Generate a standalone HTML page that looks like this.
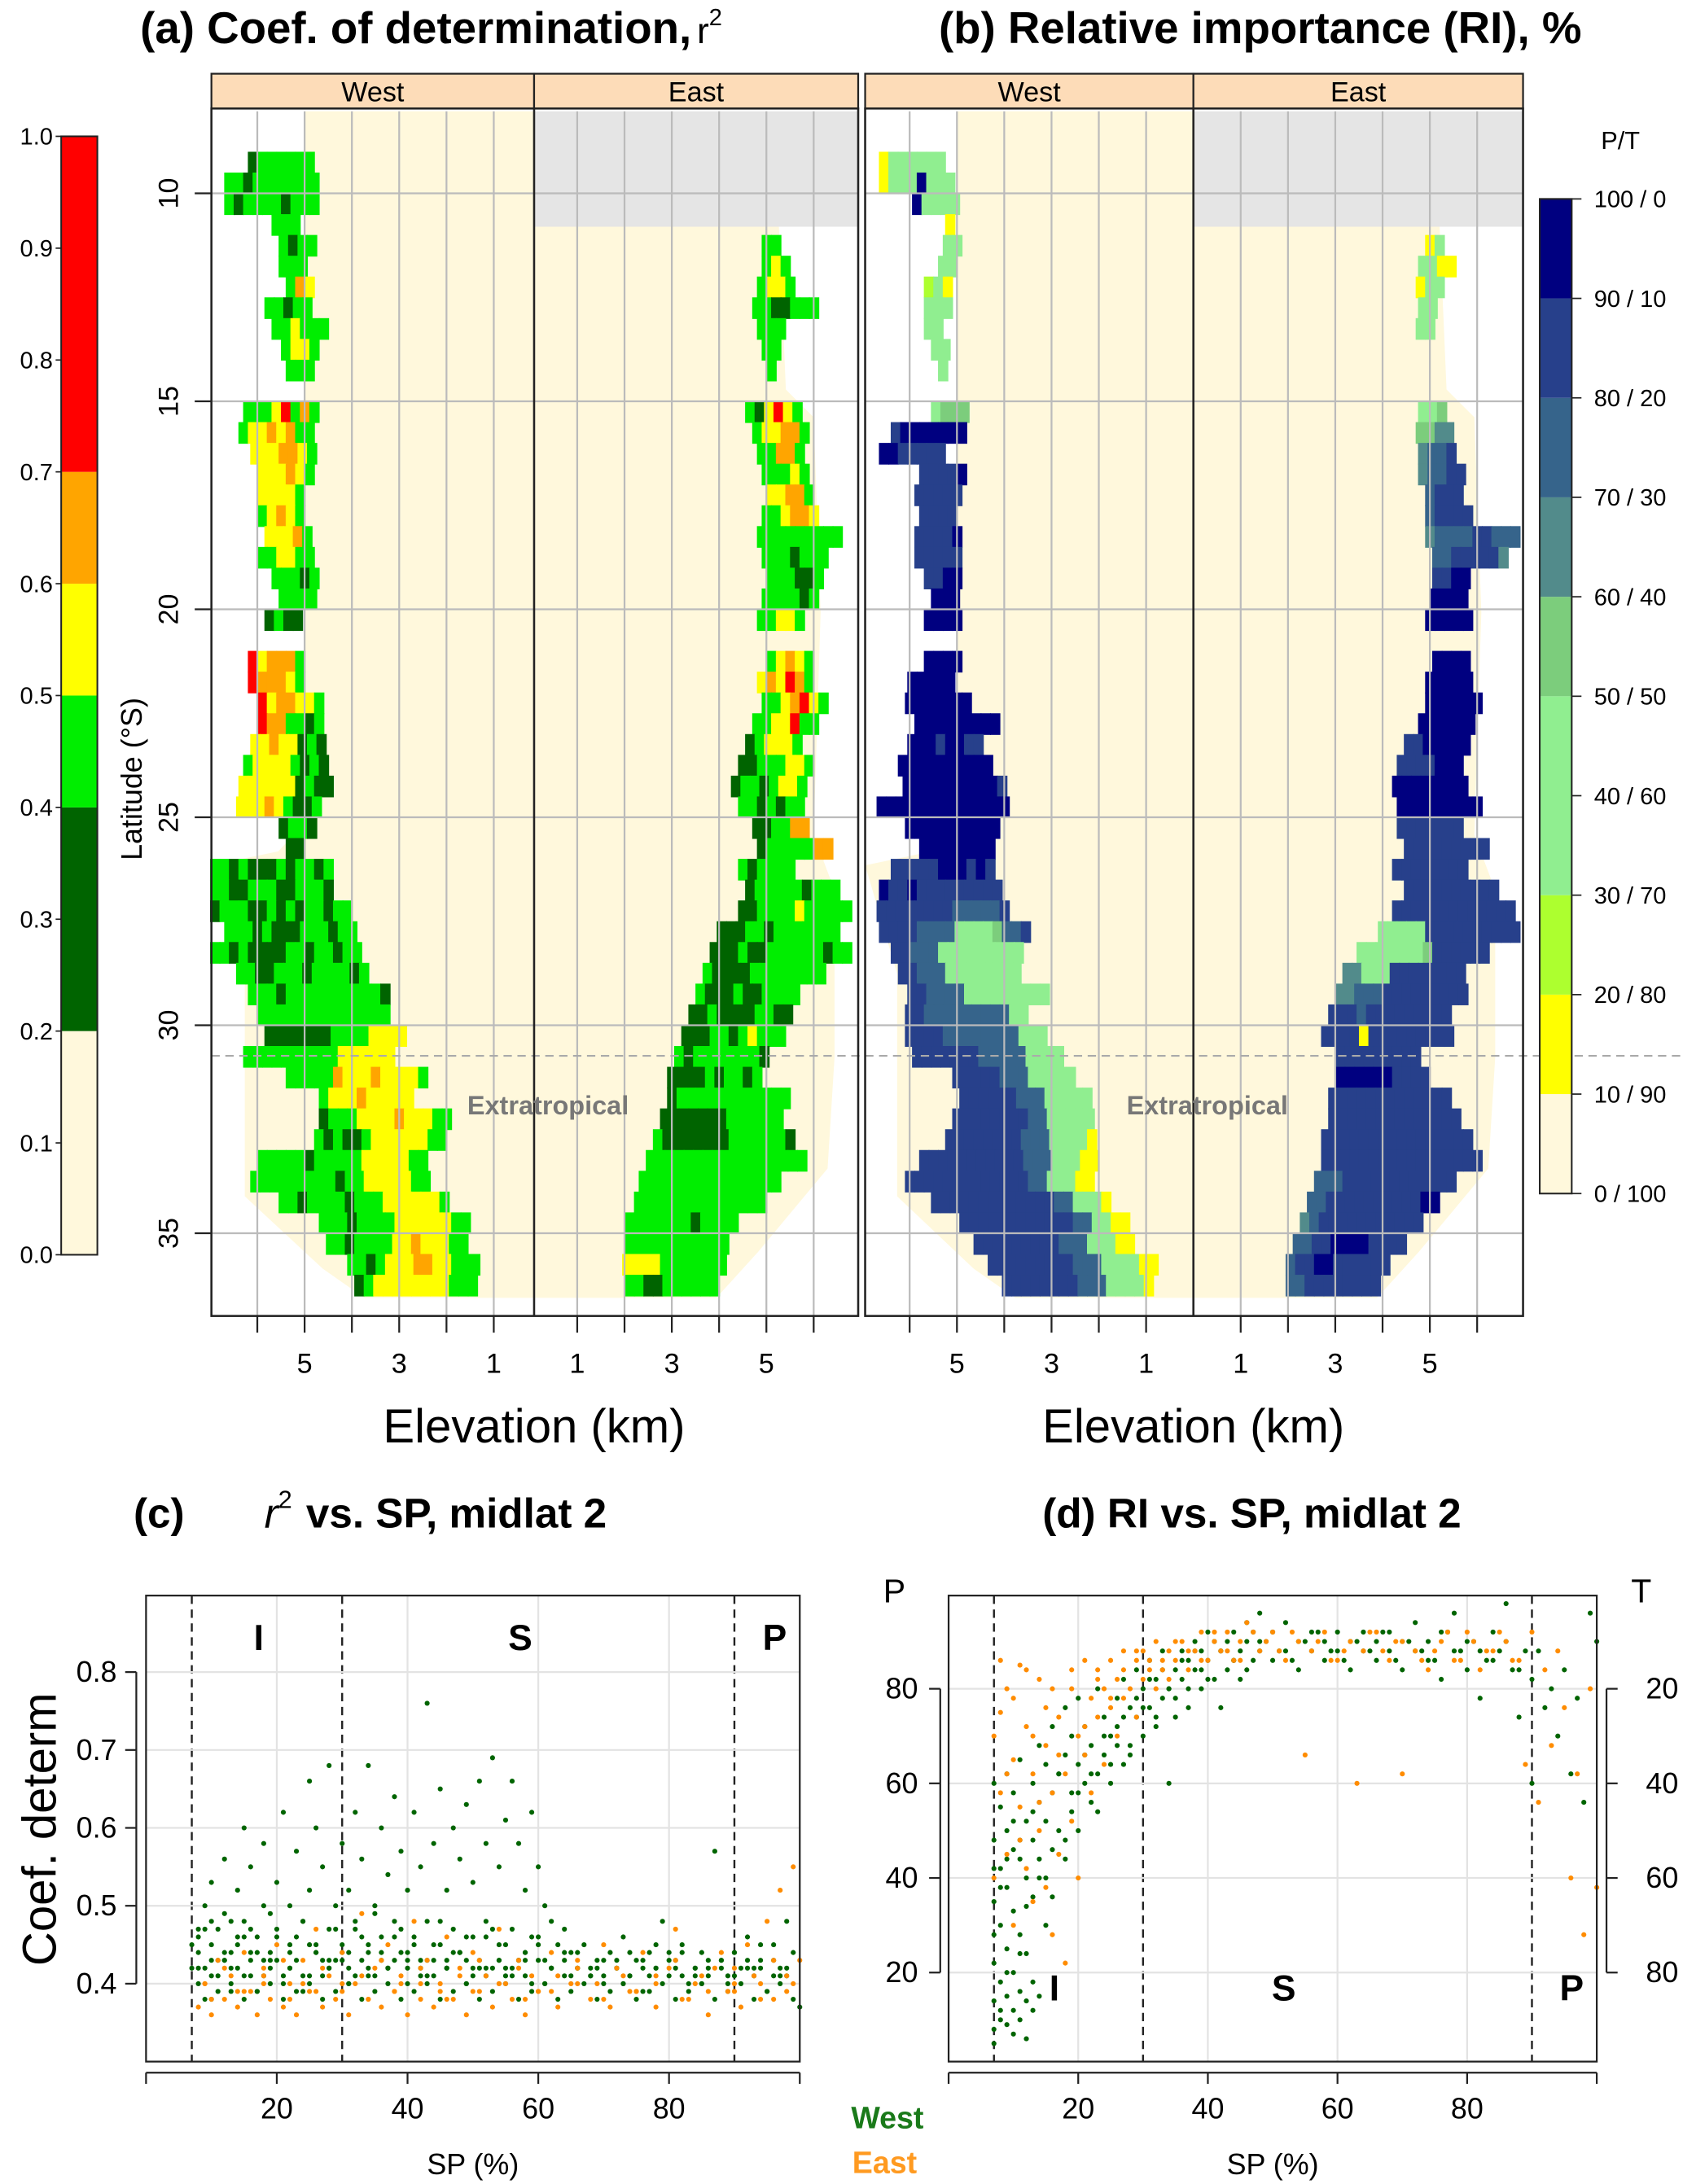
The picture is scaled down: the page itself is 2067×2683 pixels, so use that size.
<!DOCTYPE html>
<html><head><meta charset="utf-8"><style>
html,body{margin:0;padding:0;background:#fff}
svg{display:block;font-family:"Liberation Sans",Arial,sans-serif}
</style></head><body>
<svg id="fig" xmlns="http://www.w3.org/2000/svg" width="2067" height="2683" viewBox="0 0 1210 1570" preserveAspectRatio="none">
<rect x="0" y="0" width="1210" height="1570" fill="#fff"/>
<text x="310" y="31" font-size="32" font-weight="bold" text-anchor="middle">(a) Coef. of determination,<tspan font-weight="normal" font-size="26" dx="4">r</tspan><tspan font-weight="normal" font-size="17" dy="-13">2</tspan></text>
<text x="906" y="31" font-size="32" font-weight="bold" text-anchor="middle">(b) Relative importance (RI), %</text>
<text x="96" y="1098" font-size="30" font-weight="bold">(c)</text>
<text x="190" y="1098" font-size="30" font-weight="bold"><tspan font-style="italic" font-weight="normal">r</tspan><tspan font-size="18" font-weight="normal" dy="-14">2</tspan><tspan dy="14" dx="10">vs. SP, midlat 2</tspan></text>
<text x="900" y="1098" font-size="30" font-weight="bold" text-anchor="middle">(d) RI vs. SP, midlat 2</text>
<polygon fill="#fff8dc" points="219,80 384,80 384,933 262,933 232,912 176,860 176,700 152,622 200,612 219,592"/>
<polygon fill="#fff8dc" points="384,163 560,163 565,280 585,300 590,440 585,600 600,640 600,760 595,840 545,900 515,933 384,933"/>
<rect x="384" y="80" width="233" height="83" fill="#e5e5e5"/>
<polygon fill="#fff8dc" points="688,80 858,80 858,933 730,933 700,912 645,860 645,700 622,622 670,612 688,592"/>
<polygon fill="#fff8dc" points="858,163 1035,163 1040,280 1060,300 1065,440 1060,600 1075,640 1075,760 1070,840 1020,900 990,933 858,933"/>
<rect x="858" y="80" width="237" height="83" fill="#e5e5e5"/>
<g id="cells"></g>
<g id="grid"></g>
<g id="frames"></g>
<g id="scatter"></g>
</svg>
<script>
const NS='http://www.w3.org/2000/svg';
const svg=document.getElementById('fig');
function mk(tag,attrs,parent){const e=document.createElementNS(NS,tag);for(const k in attrs)e.setAttribute(k,attrs[k]);(parent||svg).appendChild(e);return e;}

const r2Codes=['c','d','g','y','o','r'];
const r2Colors=['#fff8dc','#006400','#00ee00','#ffff00','#ffa500','#ff0000'];
const riColors=['#fff8dc','#ffff00','#adff2f','#90ee90','#90ee90','#7ccd7c','#528b8b','#36648b','#27408b','#000080'];
const r2Ticks=['0.0','0.1','0.2','0.3','0.4','0.5','0.6','0.7','0.8','0.9','1.0'];
const riTicks=['0 / 100','10 / 90','20 / 80','30 / 70','40 / 60','50 / 50','60 / 40','70 / 30','80 / 20','90 / 10','100 / 0'];
const latTicks=[10,15,20,25,30,35];
const kmTicks=[1,2,3,4,5,6];
const kmLabels=[1,3,5];

const aWest=[[9,6.2,'dgggggg'],[9.5,6.7,'ggdggggggg'],[10,6.7,'gdggggdggg'],[10.5,5.7,'ggg'],[11,5.55,'gdgg'],[11.5,5.55,'ggg'],[12,5.4,'goy'],[12.5,5.85,'ggdgg'],[13,5.7,'ggyggg'],[13.5,5.5,'gyyg'],[14,5.4,'ggg'],
[15,6.3,'gggyrgog'],[15.5,6.4,'gyyoyogg'],[16,6.15,'yyyooyg'],[16.5,6,'yyyoyg'],[17,6,'yyyyg'],[17.5,6,'gyoyg'],[18,5.85,'yyyog'],[18.5,6,'ggyygg'],[19,5.7,'gggdg'],[19.5,5.55,'gggg'],[20,5.85,'dgdd'],
[21,6.2,'ryooog'],[21.5,6.2,'roooyg'],[22,6,'ryooyyg'],[22.5,6,'rooggdg'],[23,6.15,'yyoyydgd'],[23.5,6.3,'gyyyygdgd'],[24,6.4,'yyyyyydgdd'],[24.5,6.45,'yyyoygddg'],[25,5.55,'dggd'],[25.5,5.4,'dd'],
[26,7,'ggdgdddgdggdg'],[26.5,7,'ggddgggddgggd'],[27,7,'dgggddgdgdggdgg'],[27.5,6.7,'gggdgdddgggdgg'],[28,7,'ggdgddddggdggdgg'],[28.5,6.45,'ggddgggdggggdg'],[29,6.2,'gggdggggggggggd'],[29.5,6,'gggggggggggggg'],
[30,5.85,'dddddddggggyyyy'],[30.5,6.3,'ggggggggggyyyyyy'],[31,5.4,'gggggoyyyoyyyyg'],[31.5,4.7,'gyyyoyyyyy'],[32,4.7,'dgggyyyyoyyygg'],[32.5,4.8,'gdgddgyyyyyygg'],[33,6,'gggggdgggggyyyyygg'],[33.5,6.15,'gggggggggdggyyyyygg'],
[34,5.55,'ggdggggdgggyyyyyyg'],[34.5,4.7,'gggdggggyyyyyygg'],[35,4.55,'ggdggggyyoyyygg'],[35.5,4.1,'ggdgyyyooyyggg'],[36,3.95,'dgyyyyyyyyggg']];
const aEast=[[11,4.9,'gg'],[11.5,4.9,'gyg'],[12,4.8,'gyyg'],[12.5,4.7,'ggddggg'],[13,4.8,'ggg'],[13.5,4.9,'gg'],[14,5,'g'],
[15,4.55,'gdyryg'],[15.5,4.7,'gyyoog'],[16,4.8,'ggoog'],[16.5,4.9,'gggyg'],[17,5,'yyoog'],[17.5,4.9,'ggyooy'],[18,4.8,'ggggggggg'],[18.5,4.9,'gggdggg'],[19,5,'gggddg'],[19.5,4.9,'ggggdg'],[20,4.8,'ggyyg'],
[21,5,'gyoyg'],[21.5,4.8,'yoyrog'],[22,4.9,'ggyoryg'],[22.5,4.7,'ggyyrgg'],[23,4.55,'dgyyyg'],[23.5,4.4,'ddgggyyg'],[24,4.25,'dggdgyyg'],[24.5,4.4,'ggdgdgg'],[25,4.7,'ddggoo'],[25.5,4.8,'dgggggoo'],
[26,4.4,'gdgggg'],[26.5,4.55,'dgggggdggg'],[27,4.4,'ddggggyggggg'],[27.5,3.95,'dddggdggggggg'],[28,3.8,'dddgddggggggdgg'],[28.5,3.65,'gddddgggggggg'],[29,3.5,'gdddgddgggg'],[29.5,3.35,'ddgddddggdd'],
[30,3.2,'dddggdgyggg'],[30.5,3.05,'gdgggggggd'],[31,2.9,'ddddgdggdg'],[31.5,2.9,'dgggggggggggg'],[32,2.75,'dddddddgggggg'],[32.5,2.6,'gdddddddggggggd'],[33,2.45,'ggggggggggggggggg'],[33.5,2.3,'ggggggggggggggg'],
[34,2.2,'gggggggggggggg'],[34.5,2,'gggggggdgggg'],[35,2,'ggggggggggg'],[35.5,1.95,'yyyyggggggg'],[36,2,'ggddgggggg']];
const bWest=[[9,6.65,'1333333'],[9.5,6.65,'13339333'],[10,5.95,'93333'],[10.5,5.25,'1'],[11,5.3,'33'],[11.5,5.4,'33'],[12,5.7,'231'],[12.5,5.7,'333'],[13,5.7,'33'],[13.5,5.55,'33'],[14,5.4,'3'],
[15,5.55,'3555'],[15.5,6.4,'89999999'],[16,6.65,'9988888'],[16.5,5.8,'88889'],[17,5.9,'88888'],[17.5,5.8,'8888'],[18,5.9,'88889'],[18.5,5.9,'88888'],[19,5.7,'8899'],[19.5,5.55,'999'],[20,5.7,'9999'],
[21,5.7,'9999'],[21.5,6.05,'99999'],[22,6.1,'9999999'],[22.5,5.9,'999999999'],[23,6.05,'99989988'],[23.5,6.25,'9999999999'],[24,6.15,'99999999998'],[24.5,6.7,'99999999999999'],[25,6.1,'9999999999'],[25.5,5.8,'99999999'],
[26,6.4,'88888999898'],[26.5,6.65,'9889888888888'],[27,6.7,'88888888777778'],[27.5,6.65,'8888777744445778'],[28,6.4,'88777444443344'],[28.5,6.25,'8877744443344'],[29,6.05,'887777444433344'],[29.5,6.1,'8877777777744'],
[30,6.1,'888877777777444'],[30.5,5.95,'8888888777774444'],[31,5.1,'8888877744443'],[31.5,4.95,'88888877744333'],[32,5.1,'888888887744333'],[32.5,5.25,'8888888877744331'],[33,5.8,'8888888888877743311'],[33.5,6.1,'88888888888887744311'],
[34,5.55,'8888888888888774431'],[34.5,4.95,'888888888888774311'],[35,4.65,'88888888877744311'],[35.5,4.35,'888888888777443311'],[36,4.05,'8888888877744331']];
const bEast=[[11,4.9,'13'],[11.5,4.75,'3311'],[12,4.7,'133'],[12.5,4.75,'33'],[13,4.7,'33'],
[15,4.75,'335'],[15.5,4.7,'5566'],[16,4.75,'6778'],[16.5,4.75,'67788'],[17,4.9,'7888'],[17.5,4.9,'78888'],[18,4.9,'6777788777'],[18.5,5.05,'77888886'],[19,5.05,'8899'],[19.5,5,'9999'],[20,4.9,'99999'],
[21,5.05,'9999'],[21.5,4.9,'99999'],[22,4.9,'999999'],[22.5,4.75,'999999'],[23,4.45,'8899999'],[23.5,4.3,'8888999'],[24,4.2,'99999999'],[24.5,4.3,'999999999'],[25,4.3,'8888888'],[25.5,4.45,'888888888'],
[26,4.2,'88888888'],[26.5,4.45,'8888888888'],[27,4.2,'8888888888888'],[27.5,3.9,'444448888888888'],[28,3.45,'33444445888888'],[28.5,3.15,'6633388888888'],[29,3,'66777888888888'],[29.5,2.85,'8887888888888'],
[30,2.7,'88881888888888'],[30.5,3,'888888888'],[31,3,'9999998888'],[31.5,2.85,'8888888888888'],[32,2.85,'88888888888888'],[32.5,2.7,'8888888888888888'],[33,2.7,'88888888888888888'],[33.5,2.55,'777888888888888'],
[34,2.4,'77888888888899'],[34.5,2.25,'6788888888888'],[35,2.1,'778899998888'],[35.5,1.95,'78899888888'],[36,1.95,'7788888888']];

const cWestSP=[8,8,8,9,9,10,10,10,11,11,12,12,12,13,13,14,14,15,15,15,16,16,17,17,18,18,19,19,20,20,21,21,22,22,23,23,24,24,25,25,26,26,27,27,28,28,29,29,30,30,31,31,32,32,33,33,34,34,35,35,36,36,37,37,38,38,39,39,40,40,41,41,42,42,43,43,44,44,45,45,46,46,47,47,48,48,49,49,50,50,51,51,52,52,53,53,54,54,55,55,56,56,57,57,58,58,59,59,60,60,61,61,62,62,63,64,64,65,66,67,68,69,70,71,72,73,74,75,76,77,78,79,80,81,82,83,84,85,86,87,88,89,90,91,92,93,94,95,96,97,98,99,100,
8,10,12,14,16,18,20,22,24,26,28,30,32,34,36,38,40,42,44,46,48,50,52,54,56,58,60,62,64,66,68,70,72,74,76,78,80,82,84,86,88,90,92,94,96,98,9,11,13,15,17,19,21,23,25,27,29,31,33,35,37,39,41,43,45,47,49,51,53,55,57,59,61,63,65,67,69,71,73,75,77,79,81,83,85,87,89,91,93,95,97,99,
7,9,11,13,15,17,19,21,23,25,27,29,31,33,35,37,39,41,43,45,47,49,51,53,55,57,59,8,10,12,14,16,18,20,22,24,26,28,30,32,34,36,38,40,42,44,46,48,50,52,54,56,58,60,62,64,66,68,70,72,74,76,78,80,82,84,86,88,90,92,94,96,98,
7,10,13,16,19,22,25,28,31,34,37,40,43,46,49,52,55,58,61,65,69,73,77,81,85,89,93,97];
const cWestR2=[40,44,47,42,50,38,45,53,41,47,43,49,56,39,44,46,52,41,48,60,43,55,39,46,50,58,42,44,47,53,40,62,45,50,43,57,39,48,52,66,44,60,41,55,47,68,43,50,45,58,40,52,48,62,43,56,44,68,41,50,46,60,42,54,48,64,44,57,40,52,46,62,43,55,48,76,41,58,45,65,42,52,47,60,44,56,40,63,46,53,43,66,48,58,42,69,45,55,41,61,47,66,43,58,44,52,40,62,46,55,43,50,42,48,45,41,47,44,42,45,41,43,40,44,42,46,41,43,39,44,42,48,41,43,45,40,42,44,41,57,43,40,44,42,46,41,43,39,45,42,48,44,37,
42,41,43,42,44,41,43,42,41,44,42,43,41,42,44,43,42,41,43,42,44,41,42,43,42,41,43,42,44,42,41,43,42,41,43,42,44,41,42,43,42,41,43,42,41,42,38,39,40,38,39,40,38,39,40,38,39,40,38,39,40,38,39,40,38,39,40,38,39,40,38,39,40,38,39,40,38,39,40,38,39,40,38,39,40,38,39,40,38,39,40,38,
45,47,43,48,46,44,49,41,46,45,43,47,44,46,49,42,47,45,43,48,44,46,42,47,45,43,46,46,48,44,45,47,43,46,44,48,45,42,44,47,45,43,46,44,42,45,43,44,42,46,43,41,44,45,42,43,44,42,41,43,44,42,45,43,44,41,42,43,44,42,45,43,41,
42,43,42,41,43,42,41,43,42,41,42,43,41,42,43,41,42,43,40,41,42,40,41,42,40,41,42,41];
const cEastSP=[8,9,10,11,12,13,14,15,16,17,18,19,20,21,22,23,24,25,26,27,28,29,30,31,32,33,34,35,36,37,38,39,40,41,42,43,44,45,46,47,48,49,50,51,52,53,54,55,56,57,58,59,60,62,63,65,66,68,70,71,73,75,76,78,80,81,83,85,86,88,89,90,91,92,94,95,96,97,98,99,100,
9,12,15,18,21,24,27,30,33,36,39,42,45,48,51,54,57,60,63,66,69,72,75,78,81,84,87,90,93,96,99,10,14,18,22,26,30,34,38,42,46,50,54,58,62,66,70,74,78,82,86,90,94,98];
const cEastR2=[37,40,36,43,38,41,37,44,39,36,42,38,45,37,40,36,43,39,47,37,41,38,44,36,40,49,38,42,37,45,39,41,36,48,38,43,37,40,46,38,42,36,44,39,41,37,47,40,38,43,36,41,39,44,37,40,42,38,45,37,41,39,44,37,42,47,38,41,36,44,39,42,37,45,40,48,38,52,41,55,43,
40,42,39,41,43,40,42,39,41,43,40,42,39,41,43,40,42,39,41,43,40,42,39,41,43,40,42,39,41,43,40,38,39,40,38,39,40,38,39,40,38,39,40,38,39,40,38,39,40,38,39,40,38,39];
const dWestSP=[7,7,7,7,7,7,8,8,8,8,8,9,9,9,9,9,9,10,10,10,10,10,11,11,11,11,11,12,12,12,12,13,13,13,13,14,14,14,14,15,15,15,16,16,16,17,17,18,18,18,19,19,20,20,20,21,21,22,22,23,23,24,24,25,25,26,26,27,27,28,28,29,29,30,30,31,31,32,32,33,33,34,34,35,35,36,36,37,37,38,38,39,39,40,40,41,41,42,42,43,43,44,44,45,45,46,46,47,47,48,48,49,50,50,52,52,54,54,56,56,58,58,60,60,62,62,64,64,66,66,68,68,70,70,72,72,74,74,76,76,78,78,80,80,82,82,84,84,86,86,88,88,90,90,91,92,93,94,95,96,97,98,99,100,
7,7,7,8,8,9,9,10,10,11,11,12,12,13,13,14,15,16,17,18,19,20,21,22,23,24,25,26,27,28,29,30,31,32,33,34,35,36,37,38,39,40,42,44,46,48,51,53,55,57,59,61,63,65,67,69,71,73,75,77,79,81,83,85,87,89];
const dWestP=[8,14,22,35,48,60,10,18,30,42,55,9,15,25,38,50,62,12,20,33,46,58,10,16,28,44,65,14,24,40,52,12,36,48,60,15,44,56,68,40,52,64,46,58,72,50,62,48,66,76,54,70,58,64,78,60,72,56,68,62,80,66,74,60,70,72,78,64,82,68,76,74,84,70,80,76,86,72,82,78,88,60,80,84,74,82,88,76,86,84,90,80,88,86,92,82,90,88,76,90,84,86,92,88,82,90,94,86,92,88,96,90,86,92,88,94,90,84,88,92,86,90,88,92,90,84,88,92,86,90,88,92,84,90,88,94,86,90,82,92,88,96,84,90,88,78,92,86,90,98,84,74,82,60,88,76,80,70,84,62,78,56,96,90,
5,28,42,12,38,20,44,7,52,24,48,6,34,18,54,40,30,36,62,44,58,50,66,62,54,70,64,68,74,66,78,76,82,74,84,80,78,86,80,88,84,82,88,86,84,90,88,86,90,92,88,86,90,88,92,86,90,88,86,92,88,90,86,88,84,88];
const dEastSP=[7,7,8,8,9,9,10,10,11,11,12,12,13,13,14,14,15,15,16,16,16,17,17,18,18,19,19,20,20,21,21,22,22,23,23,24,24,25,25,26,26,27,27,28,29,29,30,30,31,32,32,33,34,34,35,36,37,38,39,40,41,42,43,44,45,46,48,50,52,54,55,56,58,60,62,63,64,66,68,70,70,72,74,76,78,80,82,84,86,88,89,90,91,92,93,94,95,96,97,98,99,100,
8,9,10,11,12,13,14,15,17,19,21,23,25,27,29,31,33,35,37,39,41,43,45,47,49,51,53,57,59,61,65,67,69,73,75,77,79,81,83,85,87];
const dEastP=[70,40,58,75,45,80,65,30,55,85,42,72,35,62,50,82,38,68,28,58,80,45,74,22,62,52,84,40,70,66,86,58,78,74,84,64,80,76,86,70,82,78,88,80,74,86,82,88,84,80,90,86,82,88,86,90,84,88,92,86,90,88,92,86,90,94,88,92,86,90,66,88,92,86,90,60,88,92,86,62,90,88,84,90,86,92,84,88,90,86,64,92,56,84,68,88,76,40,62,28,80,38,
86,62,78,48,84,70,56,76,66,80,72,82,78,84,88,86,84,90,88,86,92,88,86,92,90,88,92,90,86,88,92,88,90,86,88,92,86,90,88,92,86];
const cXTicks=[20,40,60,80];
const cYTicks=[0.4,0.5,0.6,0.7,0.8];
const dPTicks=[20,40,60,80];
const dTTicks=[20,40,60,80];
const zoneBounds=[7,30,90];

const latY=lat=>139+(lat-10)*29.9;
const axW=(x5)=>km=>x5+(5-km)*34;
const axE=(x1)=>km=>x1+(km-1)*34;
const aWX=axW(219), aEX=axE(415), bWX=axW(688), bEX=axE(892);

const cells=document.getElementById('cells');
function drawHeat(rows,xf,dir,colorOf,name){
  const g=mk('g',{},cells);
  
  
  rows.forEach(r=>{
    const lat=r[0],start=r[1],codes=r[2];
    const y0=latY(lat),y1=latY(lat+0.5);
    for(let i=0;i<codes.length;i++){
      const col=colorOf(codes[i]);
      if(!col) continue;
      const k0=start-dir*i*0.2,k1=start-dir*(i+1)*0.2;
      const xa=Math.min(xf(k0),xf(k1)),xb=Math.max(xf(k0),xf(k1));
      const c=mk('rect',{x:xa.toFixed(2),y:y0.toFixed(2),width:(xb-xa+0.6).toFixed(2),height:(y1-y0+0.6).toFixed(2),fill:col},g);
      
      
    }
  });
}
const r2Col=ch=>{const i=r2Codes.indexOf(ch);return i>0?r2Colors[i]:null;};
const riCol=ch=>{const i=+ch;return i>0?riColors[i]:null;};
drawHeat(aWest,aWX,1,r2Col,'a-west-heatmap');
drawHeat(aEast,aEX,-1,r2Col,'a-east-heatmap');
drawHeat(bWest,bWX,1,riCol,'b-west-heatmap');
drawHeat(bEast,bEX,-1,riCol,'b-east-heatmap');

const grid=document.getElementById('grid');
[[152,617,aWX,aEX],[622,1095,bWX,bEX]].forEach(p=>{
  latTicks.forEach(l=>{const ln=mk('line',{x1:p[0],x2:p[1],y1:latY(l),y2:latY(l),stroke:'#bbb','stroke-width':1.3},grid);
  
  });
  kmTicks.forEach(k=>{[p[2],p[3]].forEach(f=>{const ln=mk('line',{x1:f(k),x2:f(k),y1:80,y2:946,stroke:'#bbb','stroke-width':1.3},grid);
  
  });});
});
const dash=mk('line',{x1:152,x2:1210,y1:759,y2:759,stroke:'#aaa','stroke-width':1.3,'stroke-dasharray':'6,4'},grid);



const fr=document.getElementById('frames');
function txt(x,y,s,size,attrs,name){const t=mk('text',Object.assign({x:x,y:y,'font-size':size},attrs||{}),fr);t.textContent=s;

return t;}
[[152,384,617,aWX,aEX,'a'],[622,858,1095,bWX,bEX,'b']].forEach(p=>{
  const s1=mk('rect',{x:p[0],y:53,width:p[1]-p[0],height:25,fill:'#fddcb8',stroke:'#222','stroke-width':1.3},fr);
  
  
  const s2=mk('rect',{x:p[1],y:53,width:p[2]-p[1],height:25,fill:'#fddcb8',stroke:'#222','stroke-width':1.3},fr);
  
  
  txt((p[0]+p[1])/2,73,'West',20,{'text-anchor':'middle'},p[5]+'-west-label');
  txt((p[1]+p[2])/2,73,'East',20,{'text-anchor':'middle'},p[5]+'-east-label');
  const b=mk('rect',{x:p[0],y:78,width:p[2]-p[0],height:868,fill:'none',stroke:'#222','stroke-width':1.5},fr);
  
  
  const d=mk('line',{x1:p[1],x2:p[1],y1:78,y2:946,stroke:'#222','stroke-width':1.5},fr);
  
  
  kmTicks.forEach(k=>{[p[3],p[4]].forEach(f=>{const t=mk('line',{x1:f(k),x2:f(k),y1:946,y2:958,stroke:'#222','stroke-width':1.3},fr);
  
  });});
  kmLabels.forEach(k=>{txt(p[3](k),987,String(k),20,{'text-anchor':'middle'},'x-tick-label');txt(p[4](k),987,String(k),20,{'text-anchor':'middle'},'x-tick-label');});
  txt(p[1],1037,'Elevation (km)',34,{'text-anchor':'middle'},p[5]+'-x-axis-title');
  txt(p[1]+10,801,'Extratropical',19,{'text-anchor':'middle','font-weight':'bold',fill:'#777'},p[5]+'-extratropical-label');
});
latTicks.forEach(l=>{
  const t=mk('line',{x1:140,x2:152,y1:latY(l),y2:latY(l),stroke:'#222','stroke-width':1.3},fr);
  
  
  txt(128,latY(l),String(l),20,{'text-anchor':'middle',transform:'rotate(-90 128 '+latY(l)+')'},'y-tick-label');
});
txt(102,560,'Latitude (°S)',21,{'text-anchor':'middle',transform:'rotate(-90 102 560)'},'y-axis-title');

const cbA=v=>902-v*804;
const cbABounds=[0,0.2,0.4,0.5,0.6,0.7,1.0];
for(let i=1;i<cbABounds.length;i++){const r=mk('rect',{x:44,y:cbA(cbABounds[i]),width:26,height:cbA(cbABounds[i-1])-cbA(cbABounds[i]),fill:r2Colors[i-1]},fr);

}
const cbAf=mk('rect',{x:44,y:98,width:26,height:804,fill:'none',stroke:'#222','stroke-width':1.2},fr);


r2Ticks.forEach((s,i)=>{const y=cbA(i/10);const t=mk('line',{x1:40,x2:44,y1:y,y2:y,stroke:'#222'},fr);


txt(38,y+6,s,17,{'text-anchor':'end'},'r2-colorbar-label');});

const cbB=v=>858-v*71.5;
for(let i=0;i<10;i++){const r=mk('rect',{x:1107,y:cbB(i+1),width:23,height:71.5,fill:riColors[i]},fr);

}
const cbBf=mk('rect',{x:1107,y:143,width:23,height:715,fill:'none',stroke:'#222','stroke-width':1.2},fr);


riTicks.forEach((s,i)=>{const y=cbB(i);const t=mk('line',{x1:1130,x2:1137,y1:y,y2:y,stroke:'#222'},fr);


txt(1172,y+6,s,17,{'text-anchor':'middle'},'ri-colorbar-label');});
txt(1165,107,'P/T',18,{'text-anchor':'middle'},'ri-colorbar-title');

const sc=document.getElementById('scatter');
const cX=sp=>105+sp*4.7, cY=v=>1426-(v-0.4)*560;
const dX=sp=>682+sp*4.66, dY=p=>1486-p*3.4;
function panel(x0,x1,xf,name){
  [0,20,40,60,80,100].forEach(t=>{if(t>0&&t<100){const g=mk('line',{x1:xf(t),x2:xf(t),y1:1147,y2:1482,stroke:'#e3e3e3','stroke-width':1.3},sc);
  
  }
  const tk=mk('line',{x1:xf(t),x2:xf(t),y1:1490,y2:1498,stroke:'#222','stroke-width':1.3},sc);
  
  });
  const ax=mk('line',{x1:x0,x2:x1,y1:1490,y2:1490,stroke:'#222','stroke-width':1.3},sc);
  
  
  cXTicks.forEach(t=>{const l=mk('text',{x:xf(t),y:1523,'font-size':21,'text-anchor':'middle'},sc);l.textContent=t;
  
  });
  const tt=mk('text',{x:(x0+x1)/2,y:1563,'font-size':21,'text-anchor':'middle'},sc);tt.textContent='SP (%)';
  
  
  zoneBounds.forEach(z=>{const l=mk('line',{x1:xf(z),x2:xf(z),y1:1147,y2:1482,stroke:'#222','stroke-width':1.4,'stroke-dasharray':'6,4'},sc);
  
  });
}
panel(105,575,cX,'c');
panel(682,1148,dX,'d');
cYTicks.forEach(v=>{const g=mk('line',{x1:105,x2:575,y1:cY(v),y2:cY(v),stroke:'#e3e3e3','stroke-width':1.3},sc);


const tk=mk('line',{x1:90,x2:98,y1:cY(v),y2:cY(v),stroke:'#222','stroke-width':1.3},sc);


const l=mk('text',{x:84,y:cY(v)+7,'font-size':21,'text-anchor':'end'},sc);l.textContent=v.toFixed(1);

});
const cyax=mk('line',{x1:98,x2:98,y1:cY(0.4),y2:cY(0.8),stroke:'#222','stroke-width':1.3},sc);


const cyt=mk('text',{x:40,y:1315,'font-size':34,'text-anchor':'middle',transform:'rotate(-90 40 1315)'},sc);cyt.textContent='Coef. determ';


dPTicks.forEach(v=>{const g=mk('line',{x1:682,x2:1148,y1:dY(v),y2:dY(v),stroke:'#e3e3e3','stroke-width':1.3},sc);


const tk=mk('line',{x1:668,x2:676,y1:dY(v),y2:dY(v),stroke:'#222','stroke-width':1.3},sc);


const l=mk('text',{x:660,y:dY(v)+7,'font-size':21,'text-anchor':'end'},sc);l.textContent=v;

});
const dyax=mk('line',{x1:676,x2:676,y1:dY(80),y2:dY(20),stroke:'#222','stroke-width':1.3},sc);


dTTicks.forEach(t=>{const y=dY(100-t);const tk=mk('line',{x1:1155,x2:1163,y1:y,y2:y,stroke:'#222','stroke-width':1.3},sc);


const l=mk('text',{x:1195,y:y+7,'font-size':21,'text-anchor':'middle'},sc);l.textContent=t;

});
const dryax=mk('line',{x1:1155,x2:1155,y1:dY(80),y2:dY(20),stroke:'#222','stroke-width':1.3},sc);


function dots(xs,ys,xf,yf,col,name){xs.forEach((x,i)=>{const c=mk('circle',{cx:xf(x).toFixed(1),cy:yf(ys[i]).toFixed(1),r:1.8,fill:col},sc);

});}
dots(cWestSP,cWestR2,cX,v=>cY(v/100),'#006400','c-west-point');
dots(cEastSP,cEastR2,cX,v=>cY(v/100),'#ff8c00','c-east-point');
dots(dWestSP,dWestP,dX,dY,'#006400','d-west-point');
dots(dEastSP,dEastP,dX,dY,'#ff8c00','d-east-point');
[[105,575],[682,1148]].forEach((b,i)=>{const r=mk('rect',{x:b[0],y:1147,width:b[1]-b[0],height:335,fill:'none',stroke:'#222','stroke-width':1.3},sc);

});
function lbl(x,y,s,size,name,extra){const t=mk('text',Object.assign({x:x,y:y,'font-size':size,'font-weight':'bold','text-anchor':'middle'},extra||{}),sc);t.textContent=s;

}
lbl(186,1186,'I',26,'c-zone-I');lbl(374,1186,'S',26,'c-zone-S');lbl(557,1186,'P',26,'c-zone-P');
lbl(758,1438,'I',26,'d-zone-I');lbl(923,1438,'S',26,'d-zone-S');lbl(1130,1438,'P',26,'d-zone-P');
lbl(643,1152,'P',24,'d-left-axis-title',{'font-weight':'normal'});
lbl(1180,1152,'T',24,'d-right-axis-title',{'font-weight':'normal'});
lbl(638,1530,'West',22,'legend-west',{fill:'#1a7a1a'});
lbl(636,1562,'East',22,'legend-east',{fill:'#ff9a20'});
</script>
</body></html>
